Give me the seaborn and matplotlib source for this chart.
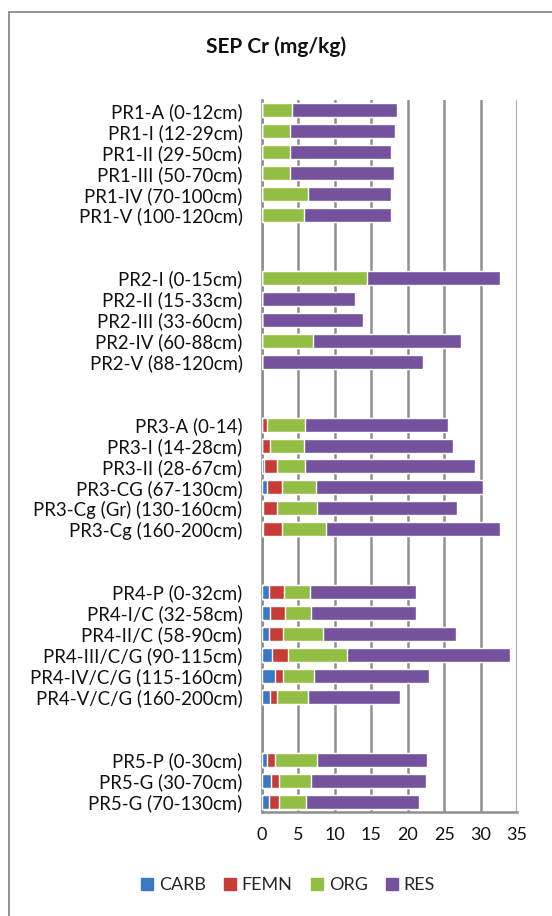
import numpy as np
import pandas as pd
import matplotlib
matplotlib.use("Agg")
import matplotlib.pyplot as plt
import matplotlib.patches as mpatches
import seaborn as sns

# sample labels, per profile
pr1 = ["PR1-A (0-12cm)", "PR1-I (12-29cm)", "PR1-II (29-50cm)", "PR1-III (50-70cm)",
       "PR1-IV (70-100cm)", "PR1-V (100-120cm)"]
pr2 = ["PR2-I (0-15cm)", "PR2-II (15-33cm)", "PR2-III (33-60cm)", "PR2-IV (60-88cm)",
       "PR2-V (88-120cm)"]
pr3 = ["PR3-A (0-14)", "PR3-I (14-28cm)", "PR3-II (28-67cm)", "PR3-CG (67-130cm)",
       "PR3-Cg (Gr) (130-160cm)", "PR3-Cg (160-200cm)"]
pr4 = ["PR4-P (0-32cm)", "PR4-I/C (32-58cm)", "PR4-II/C (58-90cm)", "PR4-III/C/G (90-115cm)",
       "PR4-IV/C/G (115-160cm)", "PR4-V/C/G (160-200cm)"]
pr5 = ["PR5-P (0-30cm)", "PR5-G (30-70cm)", "PR5-G (70-130cm)"]

samples = pr1 + pr2 + pr3 + pr4 + pr5

# fractions (mg/kg)
carb = [0, 0, 0, 0, 0, 0,
        0, 0, 0, 0, 0,
        0.05, 0.05, 0.3, 0.64, 0.1, 0.1,
        0.91, 1.05, 0.91, 1.33, 1.74, 1.05,
        0.73, 1.19, 0.91]
femn = [0, 0, 0, 0, 0, 0,
        0, 0, 0, 0, 0,
        0.68, 1.0, 1.7, 2.06, 1.9, 2.6,
        2.06, 2.06, 1.93, 2.19, 1.1, 0.95,
        1.01, 1.1, 1.38]
org = [4.07, 3.8, 3.8, 3.8, 6.27, 5.72,
       14.36, 0, 0, 6.95, 0,
       5.13, 4.67, 3.86, 4.67, 5.5, 6.04,
       3.57, 3.57, 5.49, 8.1, 4.25, 4.27,
       5.76, 4.39, 3.71]
res = [14.4, 14.4, 13.86, 14.27, 11.4, 11.94,
       18.24, 12.72, 13.8, 20.31, 22.05,
       19.64, 20.45, 23.44, 22.93, 19.2, 23.86,
       14.55, 14.41, 18.25, 22.48, 15.78, 12.63,
       15.2, 15.78, 15.5]

series = ["CARB", "FEMN", "ORG", "RES"]
colors = {"CARB": "#3a78c4", "FEMN": "#c83c38", "ORG": "#93be44", "RES": "#74529e"}

df = pd.DataFrame({"sample": samples, "CARB": carb, "FEMN": femn, "ORG": org, "RES": res})
df["c1"] = df["CARB"]
df["c2"] = df["c1"] + df["FEMN"]
df["c3"] = df["c2"] + df["ORG"]
df["c4"] = df["c3"] + df["RES"]

# two empty slots between profiles
groups = [pr1, pr2, pr3, pr4, pr5]
order = []
for i, g in enumerate(groups):
    order += g
    if i < len(groups) - 1:
        order += [" " * (2 * i + 1), " " * (2 * i + 2)]

sns.set_style("white")
plt.rcParams["font.family"] = ["Lato", "DejaVu Sans"]

fig = plt.figure(figsize=(5.52, 9.16), dpi=100)
ax = fig.add_axes([262 / 552, 1 - 812 / 916, 255 / 552, 712 / 916])

# draw cumulative layers from longest to shortest
for col, name in zip(["c4", "c3", "c2", "c1"], ["RES", "ORG", "FEMN", "CARB"]):
    sns.barplot(data=df, x=col, y="sample", order=order, color=colors[name],
                width=0.67, saturation=1, orient="h", ax=ax, zorder=3)

ax.set_xlim(0, 35)
ax.set_xticks(np.arange(0, 36, 5))
ax.set_xlabel("")
ax.set_ylabel("")
ax.grid(axis="x", color="#8e8e8e", linewidth=1.8, zorder=0)
ax.set_axisbelow(True)
for s in ["top", "right"]:
    ax.spines[s].set_visible(False)
for s in ["left", "bottom"]:
    ax.spines[s].set_color("#8e8e8e")
    ax.spines[s].set_linewidth(1.8)
ax.tick_params(axis="y", length=0, pad=14, labelsize=13.4, labelcolor="#111111")
ax.tick_params(axis="x", length=0, pad=11, labelsize=13, labelcolor="#111111")

fig.text(0.5, 1 - 47 / 916, "SEP Cr (mg/kg)", ha="center", va="center",
         fontsize=15, fontweight="bold", color="#111111")

handles = [mpatches.Patch(color=colors[s], label=s) for s in series]
fig.legend(handles=handles, loc="center", bbox_to_anchor=(288 / 552, 1 - 885 / 916),
           ncol=4, frameon=False, fontsize=13, handlelength=0.65, handleheight=0.65,
           handletextpad=0.35, columnspacing=1.0)

# chart border
fig.patches.append(mpatches.Rectangle((9 / 552, -0.05), 1.0, 1 - 12 / 916 + 0.05,
                                      transform=fig.transFigure, fill=False,
                                      edgecolor="#8a8a8a", linewidth=1.3))

fig.savefig("out.png", dpi=100)
